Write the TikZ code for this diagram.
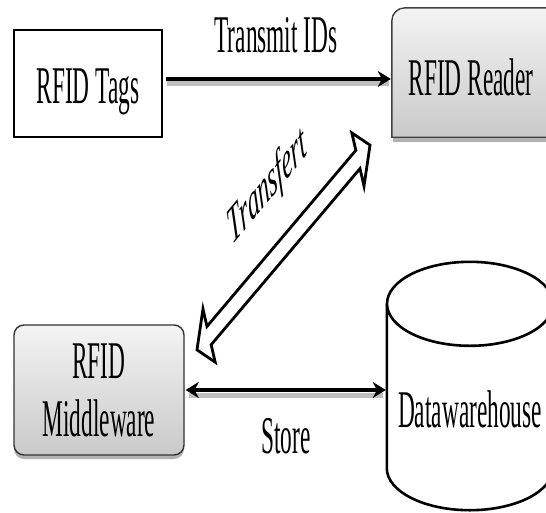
\documentclass[tikz,border=0pt]{standalone}
\usepackage{fontspec}
\setmainfont{Liberation Serif}
\usetikzlibrary{arrows.meta,calc,shadows}
\pgfdeclarelayer{bg}
\pgfsetlayers{bg,main}
% condensed lettering used throughout the diagram
\newcommand{\narrowtxt}[1]{\scalebox{0.44}[1]{#1}}

\begin{document}
\begin{tikzpicture}[x=1pt,y=-1pt,
  >={Stealth[length=13pt,width=16pt,inset=4pt]},
  bigfont/.style={font=\fontsize{53}{58}\selectfont},
  lbl/.style={bigfont, inner sep=0pt},
  tagbox/.style={bigfont, draw=black, line width=2.6pt, fill=white,
    minimum width=148pt, minimum height=107pt, inner sep=0pt},
  mwbox/.style={bigfont, draw=black!80, line width=1.4pt, rounded corners=10pt,
    top color=gray!9, bottom color=gray!42, align=center,
    minimum width=170pt, minimum height=130pt, inner sep=0pt,
    drop shadow={shadow xshift=0pt, shadow yshift=-4pt, fill=black!30, opacity=1}},
  flow/.style={line width=3.4pt, ->},
  flowboth/.style={line width=3.4pt, <->},
  shadowline/.style={line width=5pt, draw=black!25},
  cyl/.style={draw=black, line width=2.6pt, fill=white},
]
\useasboundingbox (0,0) rectangle (546,512);
\clip (0,0) rectangle (546,512);

% ---- nodes ----
\node[tagbox, text height=39pt, text depth=0pt] (tags) at (88,83.5) {\narrowtxt{RFID Tags}};
\node[bigfont, minimum width=158pt, minimum height=129pt, inner sep=0pt,
      text height=45pt, text depth=0pt] (reader) at (471,72.5) {\narrowtxt{RFID Reader}};
\node[mwbox] (mw) at (99,390) {\narrowtxt{RFID}\\\narrowtxt{Middleware}};
\node[bigfont, minimum width=166pt, minimum height=164pt, inner sep=0pt,
      text height=82pt, text depth=0pt] (dw) at (470,386) {\narrowtxt{Datawarehouse}};

% ---- reader box and database cylinder (behind their labels) ----
\begin{pgfonlayer}{bg}
  \fill[black!30] ($(reader.south west)+(1,0)$) rectangle ($(reader.south east)+(0,5)$);
  \shade[top color=gray!9, bottom color=gray!42, draw=black!75, line width=1.4pt]
    (reader.south west) -- ([yshift=-13pt]reader.north west)
    arc[start angle=180, end angle=90, radius=13pt]
    -- (reader.north east) -- (reader.south east) -- cycle;
  \path[cyl] (dw.north west) -- (dw.south west)
    arc[start angle=180, end angle=360, x radius=83pt, y radius=42pt]
    -- (dw.north east);
  \path[cyl] (dw.north) ellipse[x radius=83pt, y radius=42pt];
\end{pgfonlayer}

% ---- connectors ----
\draw[shadowline] ([yshift=0pt,xshift=4pt]tags.east) -- ([yshift=-11pt,xshift=-3pt]reader.west);
\draw[flow, shorten <=3pt, shorten >=1pt] ([yshift=4.5pt]tags.east) -- ([yshift=-6.5pt]reader.west);
\node[lbl, anchor=base] (tx) at (276,52) {\narrowtxt{Transmit IDs}};

\draw[shadowline] ([yshift=-5pt,xshift=4pt]mw.east) -- ([yshift=-5pt,xshift=-4pt]mw.east -| dw.west);
\draw[flowboth, shorten <=1pt, shorten >=1pt] (mw.east) -- (mw.east -| dw.west);
\node[lbl, anchor=base] (store) at (286,453) {\narrowtxt{Store}};

% ---- wide two-headed transfer arrow, drawn in the condensed frame ----
\begin{scope}[xscale=0.44]
  \coordinate (tfc) at (644.3,247.5);
  \begin{scope}[shift={(tfc)}, rotate=27.5]
    \draw[line width=2.8pt, fill=white, line join=miter]
      (221.7,0) -- (190.7,30) -- (190.7,10.3) -- (-190.7,10.3) -- (-190.7,30)
      -- (-221.7,0) -- (-190.7,-30) -- (-190.7,-10.3) -- (190.7,-10.3)
      -- (190.7,-30) -- cycle;
  \end{scope}
  \node[lbl, rotate=28, transform shape, font=\fontsize{53}{58}\selectfont\itshape]
    (tf) at (609,188) {Transfert};
\end{scope}
\end{tikzpicture}
\end{document}
